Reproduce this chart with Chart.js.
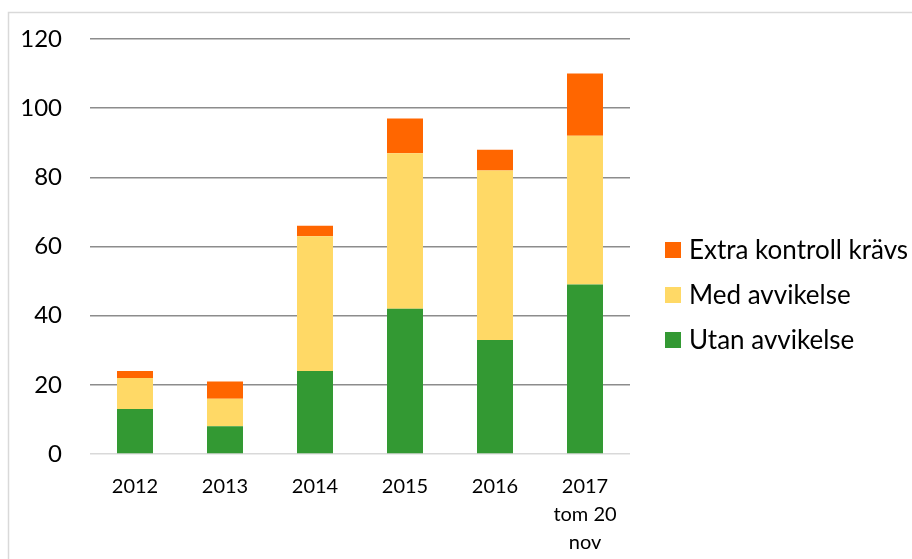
<!DOCTYPE html>
<html>
<head>
<meta charset="utf-8">
<script src="https://cdn.jsdelivr.net/npm/chart.js@4"></script>
<style>
  html, body { margin: 0; padding: 0; background: #fff; }
  #wrap { width: 912px; height: 559px; }
</style>
</head>
<body>
<div id="wrap"><canvas id="kontroller"></canvas></div>
<script>
// antal kontroller per år
const ar = ['2012', '2013', '2014', '2015', '2016', ['2017', 'tom 20', 'nov']];
const utanAvvikelse = [13, 8, 24, 42, 33, 49];
const medAvvikelse = [9, 8, 39, 45, 49, 43];
const extraKontroll = [2, 5, 3, 10, 6, 18];
const yTicks = [0, 20, 40, 60, 80, 100, 120];

const FONT = 'Lato, "Open Sans", sans-serif';

// vit bakgrund och ram runt diagrammet
const ram = {
    id: 'ram',
    beforeDraw(chart) {
        const ctx = chart.ctx;
        ctx.save();
        ctx.fillStyle = '#fff';
        ctx.fillRect(0, 0, chart.width, chart.height);
        ctx.strokeStyle = '#d9d9d9';
        ctx.lineWidth = 1.5;
        ctx.beginPath();
        ctx.moveTo(8.5, chart.height);
        ctx.lineTo(8.5, 12.5);
        ctx.lineTo(chart.width, 12.5);
        ctx.stroke();
        ctx.restore();
    }
};

// förklaring till höger, översta serien först
const forklaring = {
    id: 'forklaring',
    afterDraw(chart) {
        const ctx = chart.ctx;
        const sets = chart.data.datasets.slice().reverse();
        ctx.save();
        ctx.font = '26px ' + FONT;
        ctx.textBaseline = 'middle';
        sets.forEach((ds, i) => {
            const y = 250 + i * 45;
            ctx.fillStyle = ds.backgroundColor;
            ctx.fillRect(665, y - 8, 16, 16);
            ctx.fillStyle = '#000';
            ctx.fillText(ds.label, 689, y + 1);
        });
        ctx.restore();
    }
};

new Chart(document.getElementById('kontroller'), {
    type: 'bar',
    data: {
        labels: ar,
        datasets: [
            { label: 'Utan avvikelse', data: utanAvvikelse, backgroundColor: '#339933' },
            { label: 'Med avvikelse', data: medAvvikelse, backgroundColor: '#FFD966' },
            { label: 'Extra kontroll krävs', data: extraKontroll, backgroundColor: '#FF6600' }
        ]
    },
    options: {
        responsive: true,
        maintainAspectRatio: false,
        animation: false,
        layout: { padding: { left: 0, right: 282, top: 39, bottom: 0 } },
        plugins: {
            legend: { display: false },
            tooltip: { enabled: false }
        },
        datasets: {
            bar: { categoryPercentage: 1, barPercentage: 0.4 }
        },
        scales: {
            x: {
                stacked: true,
                grid: { display: false },
                border: { display: false },
                ticks: {
                    color: '#000',
                    padding: 10,
                    maxRotation: 0,
                    autoSkip: false,
                    font: { family: FONT, size: 20, lineHeight: 1.42 }
                },
                afterFit(scale) { scale.height = 105; }
            },
            y: {
                stacked: true,
                min: 0,
                max: 120,
                afterBuildTicks(scale) { scale.ticks = yTicks.map(v => ({ value: v })); },
                grid: {
                    // osynliga tickstreck ger avståndet mellan etikett och linje
                    drawTicks: true,
                    tickLength: 28,
                    tickColor: 'rgba(0,0,0,0)',
                    lineWidth: 1.5,
                    color: c => c.tick && c.tick.value === 0 ? '#d9d9d9' : '#8c8c8c'
                },
                border: { display: false },
                ticks: {
                    color: '#000',
                    padding: 0,
                    font: { family: FONT, size: 24 }
                },
                afterFit(scale) { scale.width = 90; }
            }
        }
    },
    plugins: [ram, forklaring]
});
</script>
</body>
</html>
